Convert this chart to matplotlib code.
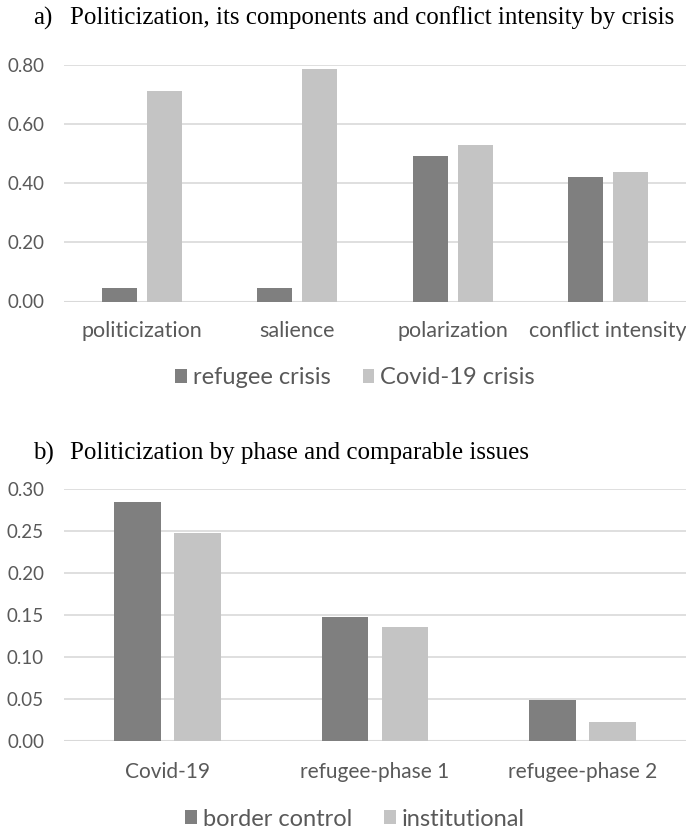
import matplotlib.pyplot as plt
import numpy as np

# panel a
cats_a = ["politicization", "salience", "polarization", "conflict intensity"]
refugee = [0.047, 0.045, 0.491, 0.422]
covid = [0.713, 0.785, 0.530, 0.439]
yticks_a = [0.0, 0.2, 0.4, 0.6, 0.8]

# panel b
cats_b = ["Covid-19", "refugee-phase 1", "refugee-phase 2"]
border = [0.285, 0.148, 0.049]
institutional = [0.248, 0.136, 0.023]
yticks_b = [0.0, 0.05, 0.10, 0.15, 0.20, 0.25, 0.30]

DARK = "#7f7f7f"
LIGHT = "#c4c4c4"
TXT = "#595959"
GRID = "#d9d9d9"

plt.rcParams["font.family"] = ["Lato", "DejaVu Sans"]

W, H = 686, 831
fig = plt.figure(figsize=(W / 100, H / 100), dpi=100)


def px_axes(y_top, y_bot):
    x0 = 64 / W
    return fig.add_axes([x0, 1 - y_bot / H, 1 - x0, (y_bot - y_top) / H])


def draw_panel(ax, cats, s1, s2, yticks, labels, catsize, xpad):
    x = np.arange(len(cats))
    width = 0.225
    off = width / 2 + 0.032
    ax.bar(x - off, s1, width, color=DARK, label=labels[0], zorder=2)
    ax.bar(x + off, s2, width, color=LIGHT, label=labels[1], zorder=2)
    ax.set_xlim(-0.5, len(cats) - 0.5)
    ax.set_ylim(yticks[0], yticks[-1])
    ax.set_yticks(yticks)
    ax.set_yticklabels(["{:.2f}".format(v) for v in yticks])
    ax.set_xticks(x)
    ax.set_xticklabels(cats)
    ax.tick_params(length=0, colors=TXT)
    ax.tick_params(axis="x", pad=xpad, labelsize=catsize)
    ax.tick_params(axis="y", pad=14.4, labelsize=13.5)
    for sp in ax.spines.values():
        sp.set_visible(False)
    ax.grid(axis="y", color=GRID, linewidth=1.2, zorder=0)
    ax.axhline(0, color=GRID, linewidth=1.5, zorder=1)
    ax.set_axisbelow(True)


def add_legend(ax, yfrac):
    ax.legend(loc="center", bbox_to_anchor=(0.468, yfrac),
              ncol=2, frameon=False, fontsize=17, handlelength=0.5,
              handleheight=0.5, handletextpad=0.25, columnspacing=1.35,
              labelcolor=TXT)


ax1 = px_axes(65, 301.5)
draw_panel(ax1, cats_a, refugee, covid, yticks_a,
           ["refugee crisis", "Covid-19 crisis"], 15.5, 14)
add_legend(ax1, (301.5 - 378) / 236.5)

ax2 = px_axes(489, 741)
draw_panel(ax2, cats_b, border, institutional, yticks_b,
           ["border control", "institutional"], 15, 15)
add_legend(ax2, (741 - 819) / 252)

serif = ["Liberation Serif", "DejaVu Serif"]
fig.text(33 / W, 1 - 18 / H, "a)", family=serif, fontsize=18, va="center")
fig.text(70 / W, 1 - 18 / H,
         "Politicization, its components and conflict intensity by crisis",
         family=serif, fontsize=18, va="center")
fig.text(33 / W, 1 - 453 / H, "b)", family=serif, fontsize=18, va="center")
fig.text(70 / W, 1 - 453 / H,
         "Politicization by phase and comparable issues",
         family=serif, fontsize=18, va="center")

fig.savefig("out.png", dpi=100)
